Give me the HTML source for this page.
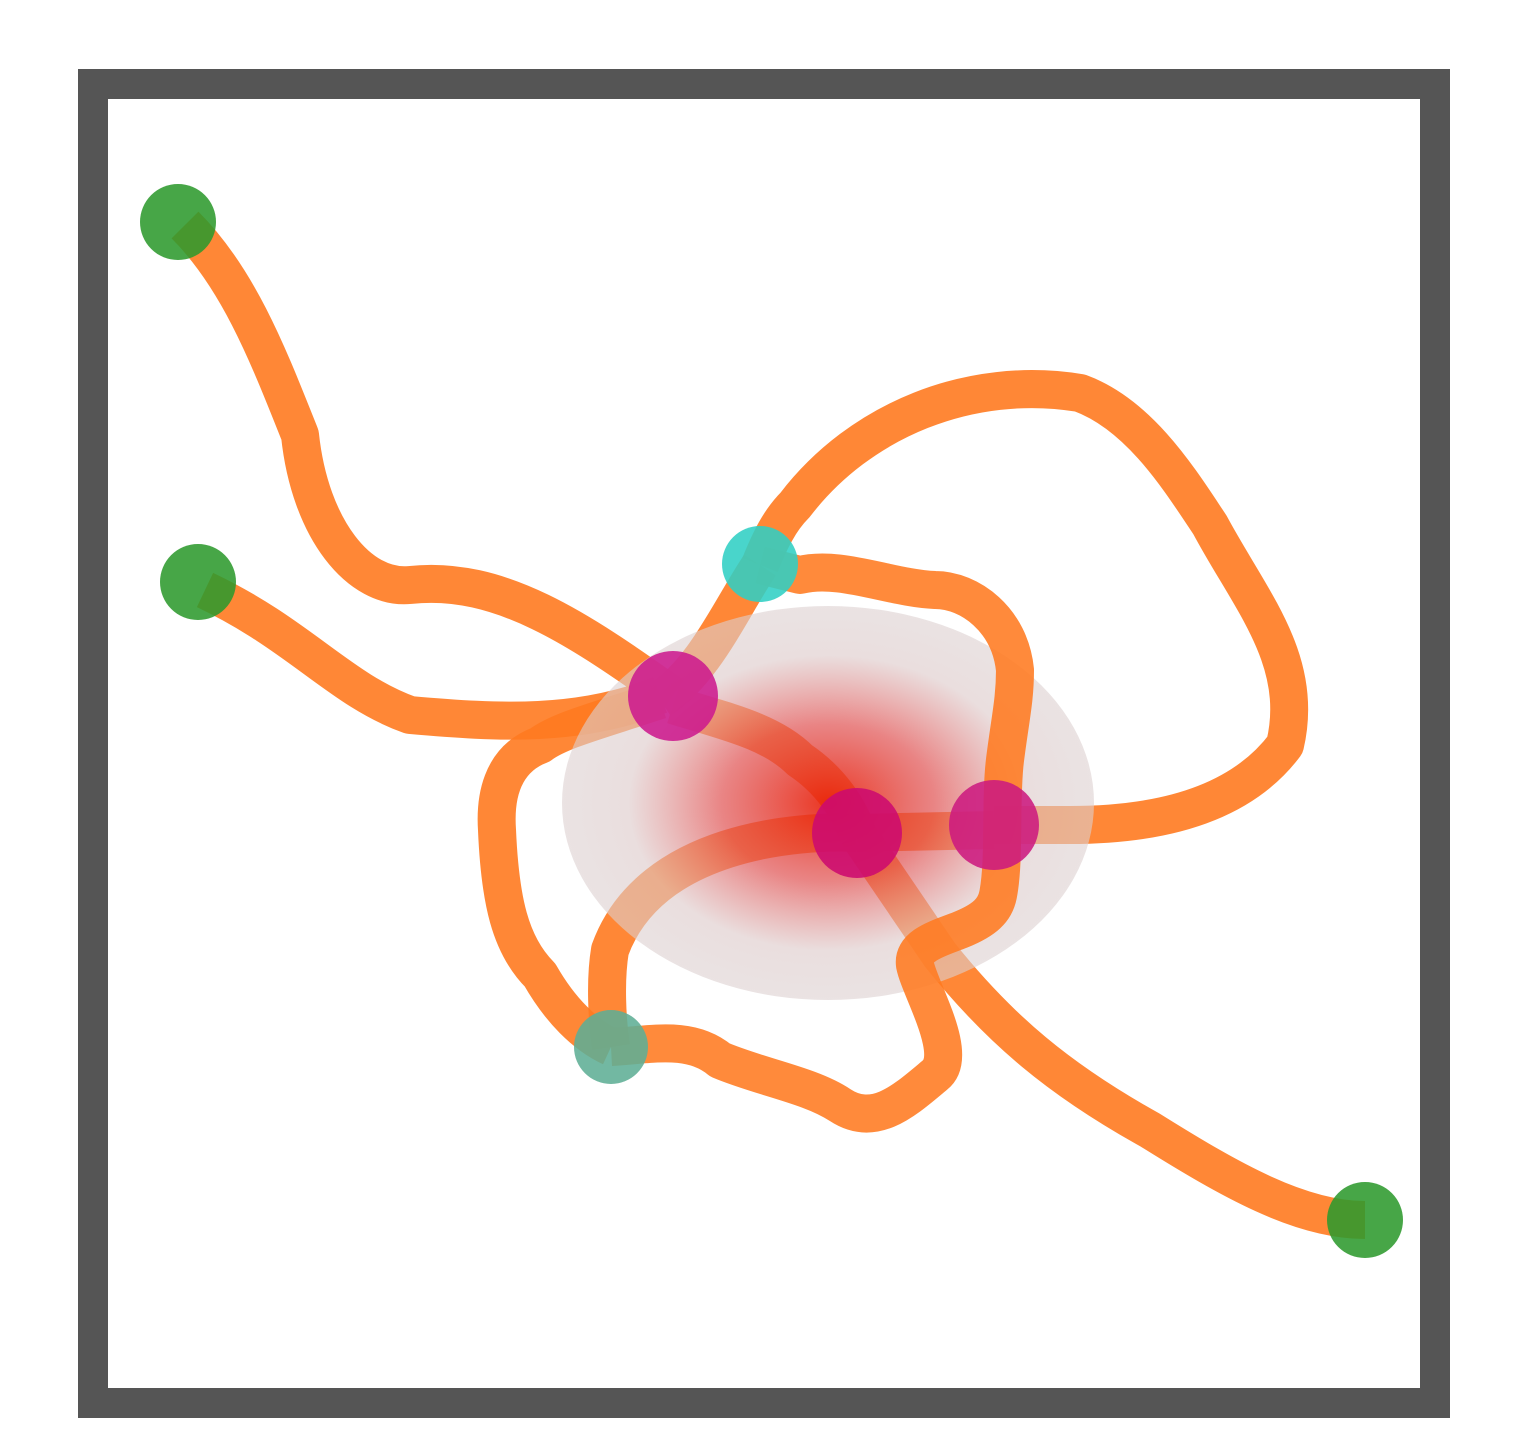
<!DOCTYPE html>
<html><head><meta charset="utf-8"><style>html,body{margin:0;padding:0;background:#fff;width:1520px;height:1456px;overflow:hidden}</style></head>
<body>
<svg id="chart" width="1520" height="1456" viewBox="0 0 1520 1456" xmlns="http://www.w3.org/2000/svg">
<defs>
<radialGradient id="rg" cx="0.5" cy="0.5" r="0.5">
<stop offset="0" stop-color="#e8200a" stop-opacity="0.9"/>
<stop offset="0.4" stop-color="#e05050" stop-opacity="0.7"/>
<stop offset="0.75" stop-color="#dcc8c8" stop-opacity="0.6"/>
<stop offset="1" stop-color="#ddd0d0" stop-opacity="0.6"/>
</radialGradient>
</defs>
<rect x="93" y="84" width="1342" height="1319" fill="#fff" stroke="#555" stroke-width="30"/>
<g id="edges" fill="none" stroke="#ff7a20" stroke-opacity="0.9" stroke-width="38" stroke-linejoin="round"></g>
<ellipse cx="828" cy="803" rx="266" ry="197" fill="url(#rg)"/>
<g id="edgesTop" fill="none" stroke="#ff7a20" stroke-opacity="0.88" stroke-width="38" stroke-linejoin="round"></g>
<g id="nodes"></g>
</svg>
<script>
const edgePaths = [
 "M185,225 C240,280 270,360 300,435 C310,530 360,590 410,585 C500,575 580,630 673,696",
 "M673,705 C720,720 770,730 800,760 C830,780 850,810 857,833",
 "M857,833 L940,955 C1000,1030 1060,1080 1150,1130 C1230,1180 1300,1220 1365,1220",
 "M205,590 C300,635 340,690 410,715 C500,723 580,727 660,695",
 "M660,700 C600,720 560,730 540,745 C500,760 495,800 497,830 C500,900 510,945 540,975 C560,1010 585,1035 611,1047",
 "M611,1047 C650,1045 690,1035 720,1060 C760,1077 810,1085 840,1105 C875,1128 905,1100 935,1075 C960,1055 920,990 915,965 C912,945 940,938 960,930 C985,920 995,910 998,895 C1005,860 1000,800 1005,760 C1010,720 1015,700 1015,670 C1010,620 970,590 935,590 C890,588 840,565 800,575 L760,565",
 "M760,565 C730,610 705,670 660,700",
 "M760,565 C770,540 780,520 795,505 C860,420 970,375 1080,393 C1140,415 1180,480 1210,525 C1250,600 1305,660 1285,745 C1240,805 1160,825 1070,825 L994,825",
 "M857,833 L994,830",
 "M857,833 C800,830 650,840 610,950 C605,980 607,1020 611,1047"
];
const edgeOnTop = [false,false,false,false,false,true,false,false,false,false];
const nodeX = [178,198,1365,760,611,673,857,994];
const nodeY = [222,582,1220,564,1047,696,833,825];
const nodeR = [38,38,38,38,37,45,45,45];
const nodeColor = ["#2e9a2e","#2e9a2e","#2e9a2e","#30cfc4","#5fae95","#cc1a8e","#cc0a70","#cc1a80"];
const NS="http://www.w3.org/2000/svg";
const eg=document.getElementById('edges');
const et=document.getElementById('edgesTop');
edgePaths.forEach((d,i)=>{
 const p=document.createElementNS(NS,'path');
 p.setAttribute('d',d);
 
 
 (edgeOnTop[i]?et:eg).appendChild(p);
});
const ng=document.getElementById('nodes');
nodeX.forEach((x,i)=>{
 const c=document.createElementNS(NS,'circle');
 c.setAttribute('cx',x);c.setAttribute('cy',nodeY[i]);c.setAttribute('r',nodeR[i]);
 c.setAttribute('fill',nodeColor[i]);c.setAttribute('fill-opacity',0.88);
 
 
 ng.appendChild(c);
});
</script>
</body></html>
